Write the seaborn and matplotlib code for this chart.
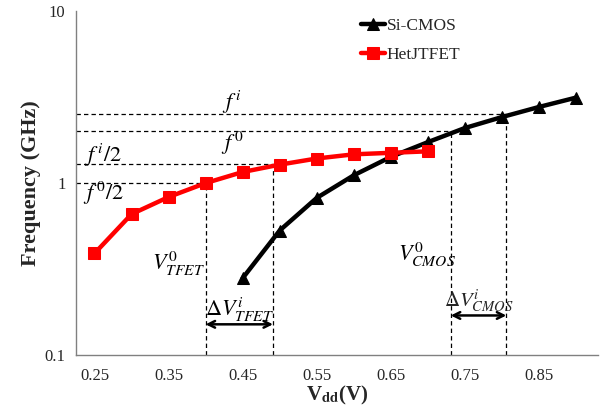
import matplotlib
matplotlib.use("Agg")
import matplotlib.pyplot as plt
import numpy as np
import pandas as pd
import seaborn as sns
from matplotlib.ticker import FixedLocator, FixedFormatter, NullFormatter

# ---- data ----
cmos_v = [0.45, 0.50, 0.55, 0.60, 0.65, 0.70, 0.75, 0.80, 0.85, 0.90]
cmos_f = [0.28, 0.53, 0.82, 1.11, 1.42, 1.73, 2.09, 2.42, 2.77, 3.14]
tfet_v = [0.25, 0.30, 0.35, 0.40, 0.45, 0.50, 0.55, 0.60, 0.65, 0.70]
tfet_f = [0.39, 0.66, 0.83, 1.00, 1.16, 1.28, 1.39, 1.47, 1.50, 1.53]
series_names = ["Si-CMOS", "HetJTFET"]

x_ticks = [0.25, 0.35, 0.45, 0.55, 0.65, 0.75, 0.85]
x_tick_labels = ["0.25", "0.35", "0.45", "0.55", "0.65", "0.75", "0.85"]
y_ticks = [0.1, 1, 10]
y_tick_labels = ["0.1", "1", "10"]

# guide levels
f_i, f_0 = 2.53, 2.0
f_i_half, f_0_half = 1.285, 1.0
v_tfet0, v_tfeti = 0.40, 0.491
v_cmos0, v_cmosi = 0.731, 0.806

sns.set_theme(style="white")
plt.rcParams["font.family"] = ["Liberation Serif", "DejaVu Serif"]
plt.rcParams["mathtext.fontset"] = "stix"

df = pd.concat([
    pd.DataFrame({"V": cmos_v, "f": cmos_f, "dev": series_names[0]}),
    pd.DataFrame({"V": tfet_v, "f": tfet_f, "dev": series_names[1]}),
])

fig = plt.figure(figsize=(6.03, 4.11), dpi=100)
ax = fig.add_axes([0.126, 0.136, 0.866, 0.837])

XMIN, XMAX = 0.225, 0.93
ax.set_xlim(XMIN, XMAX)
ax.set_yscale("log")
ax.set_ylim(0.1, 10)

# dashed guide lines
dkw = dict(color="black", lw=0.9, linestyle=(0, (3.5, 2.5)), zorder=1)
ax.hlines(f_i, XMIN, v_cmosi, **dkw)
ax.hlines(f_0, XMIN, v_cmos0, **dkw)
ax.hlines(f_i_half, XMIN, v_tfeti, **dkw)
ax.hlines(f_0_half, XMIN, v_tfet0, **dkw)
ax.vlines(v_cmosi, 0.1, f_i, **dkw)
ax.vlines(v_cmos0, 0.1, f_0, **dkw)
ax.vlines(v_tfeti, 0.1, f_i_half, **dkw)
ax.vlines(v_tfet0, 0.1, f_0_half, **dkw)

sns.lineplot(data=df[df.dev == series_names[0]], x="V", y="f", ax=ax,
             color="black", lw=3.2, marker="^", markersize=8,
             markeredgecolor="black", label=series_names[0], zorder=3)
sns.lineplot(data=df[df.dev == series_names[1]], x="V", y="f", ax=ax,
             color="#ff0000", lw=3.2, marker="s", markersize=8,
             markeredgecolor="#ff0000", label=series_names[1], zorder=4)

# arrows
akw = dict(arrowstyle="<->", color="black", lw=1.8, mutation_scale=12,
           shrinkA=0, shrinkB=0)
ax.annotate("", xy=(v_tfet0, 0.151), xytext=(v_tfeti, 0.151), arrowprops=akw)
ax.annotate("", xy=(v_cmos0, 0.170), xytext=(v_cmosi, 0.170), arrowprops=akw)

# labels
tk = dict(fontsize=16, ha="center", va="center", color="black")
ax.text(0.436, 2.95, r"$f^{\,i}$", **tk)
ax.text(0.436, 1.70, r"$f^{\,0}$", **tk)
ax.text(0.262, 1.45, r"$f^{\,i}/2$", **tk)
ax.text(0.262, 0.87, r"$f^{\,0}/2$", **tk)
ax.text(0.363, 0.34, r"$V^{0}_{TFET}$", **tk)
ax.text(0.699, 0.38, r"$V^{0}_{CMOS}$", **tk)
ax.text(0.446, 0.183, r"$\Delta V^{i}_{TFET}$", **tk)
ax.text(0.769, 0.205, r"$\Delta V^{i}_{CMOS}$", fontsize=15, ha="center", va="center")

# axes styling
for s in ["top", "right"]:
    ax.spines[s].set_visible(False)
for s in ["left", "bottom"]:
    ax.spines[s].set_color("#808080")
    ax.spines[s].set_linewidth(1.0)

ax.xaxis.set_major_locator(FixedLocator(x_ticks))
ax.xaxis.set_major_formatter(FixedFormatter(x_tick_labels))
ax.xaxis.set_minor_locator(FixedLocator([0.30, 0.40, 0.50, 0.60, 0.70, 0.80, 0.90]))
ax.yaxis.set_major_locator(FixedLocator(y_ticks))
ax.yaxis.set_major_formatter(FixedFormatter(y_tick_labels))
minor_y = [m * d for d in (0.1, 1) for m in range(2, 10)]
ax.yaxis.set_minor_locator(FixedLocator(minor_y))
ax.yaxis.set_minor_formatter(NullFormatter())

ax.tick_params(axis="both", which="major", direction="inout", length=7,
               width=1, color="#808080", labelsize=12, pad=4)
ax.tick_params(axis="both", which="minor", direction="inout", length=5,
               width=1, color="#808080")
ax.tick_params(axis="x", which="major", pad=6)

ax.set_xlabel(r"V$_{\mathbf{dd}}$(V)", fontsize=15, fontweight="bold", labelpad=0)
ax.set_ylabel("Frequency (GHz)", fontsize=16, fontweight="bold", labelpad=3)

leg = ax.legend(loc="upper left", bbox_to_anchor=(0.515, 1.025), frameon=False,
                handlelength=1.4, handletextpad=0.1, labelspacing=0.75,
                fontsize=12.5)

fig.savefig("out.png", dpi=100)
